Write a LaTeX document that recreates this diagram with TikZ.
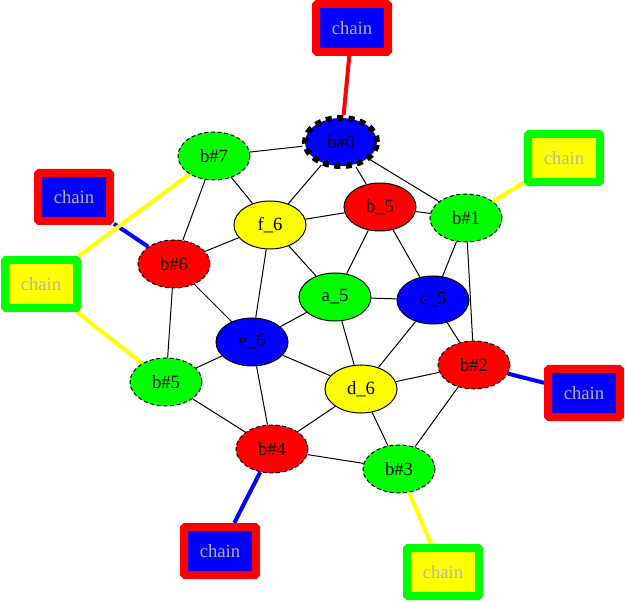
\documentclass[tikz,border=0pt]{standalone}
\usepackage{fontspec}
\setmainfont{Liberation Serif}
\usepackage{tikz}
\usetikzlibrary{shapes,backgrounds}
\definecolor{vred}{RGB}{255,0,0}
\definecolor{vblue}{RGB}{0,0,255}
\definecolor{vgreen}{RGB}{0,255,0}
\definecolor{vyellow}{RGB}{255,255,0}
\definecolor{chaingray}{RGB}{180,180,180}
\tikzset{
        site/.style = {draw, ellipse, line width=0.75pt,
            minimum width=54pt, minimum height=36pt, inner sep=0pt,
            font=\fontsize{14}{16}\selectfont},
        bead/.style = {site, dash pattern=on 3pt off 2pt},
        chainbox/.style = {draw, rectangle, rounded corners=1pt,
            line width=6pt, minimum width=54pt, minimum height=36pt,
            inner sep=0pt, text=chaingray,
            font=\fontsize{14}{16}\selectfont},
        link/.style = {draw, line width=0.75pt},
        tether/.style = {draw, line width=3pt},
    }

\begin{document}
\begin{tikzpicture}[x=0.75pt,y=-0.75pt]
    \useasboundingbox (0,0) rectangle (625,602);

    % inner sites
    \node[site, fill=vred]    (b5) at (380,207) {b\_5};
    \node[site, fill=vyellow] (f6) at (270,225) {f\_6};
    \node[site, fill=vgreen]  (a5) at (335,297) {a\_5};
    \node[site, fill=vblue]   (c5) at (433,300) {c\_5};
    \node[site, fill=vblue]   (e6) at (252,342) {e\_6};
    \node[site, fill=vyellow] (d6) at (361,389) {d\_6};

    % boundary beads
    \node[site, fill=vblue, line width=4.5pt,
          dash pattern=on 4.5pt off 4pt] (b0) at (341,142) {b\#0};
    \node[bead, fill=vgreen] (b1) at (466,218) {b\#1};
    \node[bead, fill=vred]   (b2) at (474,365) {b\#2};
    \node[bead, fill=vgreen] (b3) at (399,469) {b\#3};
    \node[bead, fill=vred]   (b4) at (272,449) {b\#4};
    \node[bead, fill=vgreen] (b5b) at (166,382) {b\#5};
    \node[bead, fill=vred]   (b6) at (174,264) {b\#6};
    \node[bead, fill=vgreen] (b7) at (214,156) {b\#7};

    % chains
    \node[chainbox, draw=vred, fill=vblue]      (ch0) at (352,28) {chain};
    \node[chainbox, draw=vgreen, fill=vyellow]  (ch1) at (564,158) {chain};
    \node[chainbox, draw=vred, fill=vblue]      (ch2) at (584,393) {chain};
    \node[chainbox, draw=vgreen, fill=vyellow]  (ch3) at (443,572) {chain};
    \node[chainbox, draw=vred, fill=vblue]      (ch4) at (220,551) {chain};
    \node[chainbox, draw=vred, fill=vblue]      (ch6) at (74,197) {chain};
    \node[chainbox, draw=vgreen, fill=vyellow]  (ch7) at (41,284) {chain};

    \begin{scope}[on background layer]
        % lattice
        \foreach \from/\to in {b0/b7, b0/f6, b0/b5, b0/b1,
                b7/f6, b7/b6, b5/f6, b5/b1, b5/a5, b5/c5,
                b1/c5, b1/b2, f6/b6, f6/a5, f6/e6, b6/e6, b6/b5b,
                a5/c5, a5/e6, a5/d6, c5/b2, c5/d6,
                e6/b5b, e6/d6, e6/b4, d6/b2, d6/b4, d6/b3,
                b2/b3, b5b/b4, b4/b3}
            \draw[link] (\from) -- (\to);

        % tethers
        \draw[tether, vred]    (b0) -- (ch0);
        \draw[tether, vyellow] (b1) -- (ch1);
        \draw[tether, vblue]   (b2) -- (ch2);
        \draw[tether, vyellow] (b3) -- (ch3);
        \draw[tether, vblue]   (b4) -- (ch4);
        \draw[tether, vblue]   (b6) -- (ch6);
        \draw[tether, vyellow] (b7) -- (ch7);
        \draw[tether, vyellow] (ch7) -- (b5b);
    \end{scope}
\end{tikzpicture}
\end{document}
